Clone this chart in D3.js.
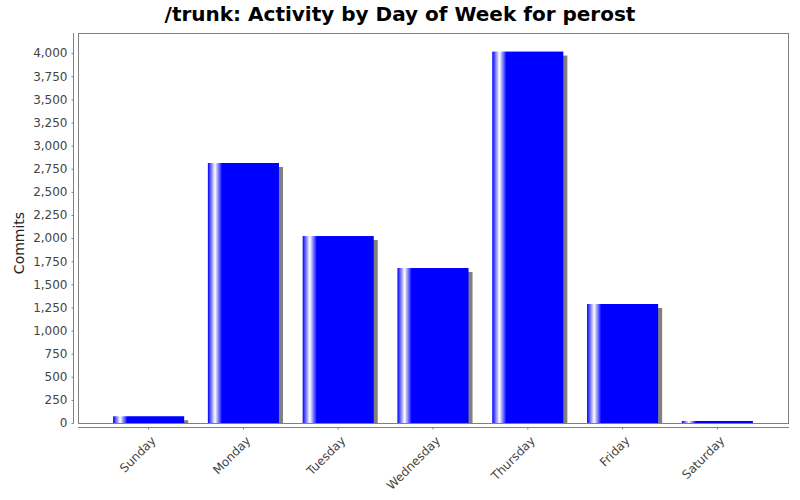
<!DOCTYPE html>
<html><head><meta charset="utf-8">
<script src="https://cdn.jsdelivr.net/npm/d3@7/dist/d3.min.js"></script>
<style>body{margin:0;background:#fff}svg{display:block}</style>
</head><body>
<svg id="chart" width="800" height="500"></svg>
<script>
const title = "/trunk: Activity by Day of Week for perost";
const yLabel = "Commits";
const days = ["Sunday","Monday","Tuesday","Wednesday","Thursday","Friday","Saturday"];
const commits = [73, 2812, 2022, 1676, 4017, 1287, 22];
const yTicks = [0,250,500,750,1000,1250,1500,1750,2000,2250,2500,2750,3000,3250,3500,3750,4000];

const svg = d3.select("#chart");
const font = "DejaVu Sans, sans-serif";
const plot = {left: 78, right: 788, top: 33, bottom: 423};

const x = d3.scaleBand().domain(days).range([plot.left, plot.right]).paddingInner(0.25).paddingOuter(0.37);
const y = d3.scaleLinear().domain([0, d3.max(commits) * 1.05]).range([plot.bottom, plot.top]);

const defs = svg.append("defs");
const grad = defs.append("linearGradient").attr("id","barGrad").attr("x1","0%").attr("x2","100%").attr("y1","0%").attr("y2","0%");
[[0,"#0000ff"],[0.10,"#ffffff"],[0.20,"#0000ff"],[0.80,"#0000ff"],[1,"#0000ff"]].forEach(([o,c]) =>
  grad.append("stop").attr("offset", o).attr("stop-color", c));

// plot background
svg.append("rect").attr("x", plot.left + 0.5).attr("y", plot.top + 0.5)
  .attr("width", plot.right - plot.left).attr("height", plot.bottom - plot.top)
  .attr("fill", "#fff").attr("stroke", "#808080").attr("stroke-width", 1);

// shadows
svg.append("g").selectAll("rect").data(days).join("rect")
  .attr("x", d => x(d) + 4).attr("y", (d,i) => y(commits[i]) + 4)
  .attr("width", x.bandwidth()).attr("height", (d,i) => Math.max(0, plot.bottom - y(commits[i]) - 4))
  .attr("fill", "#808080");

// bars
svg.append("g").selectAll("rect").data(days).join("rect")
  .attr("x", d => x(d)).attr("y", (d,i) => y(commits[i]))
  .attr("width", x.bandwidth()).attr("height", (d,i) => plot.bottom - y(commits[i]))
  .attr("fill", "url(#barGrad)");

// re-draw plot border on top
svg.append("rect").attr("x", plot.left + 0.5).attr("y", plot.top + 0.5)
  .attr("width", plot.right - plot.left).attr("height", plot.bottom - plot.top)
  .attr("fill", "none").attr("stroke", "#808080").attr("stroke-width", 1);

// y axis
const yAxis = d3.axisLeft(y).tickValues(yTicks).tickSize(2).tickPadding(4).tickFormat(d3.format(","));
const yg = svg.append("g").attr("transform", "translate(73.5,0)").call(yAxis);
yg.select(".domain").attr("d", `M0,${plot.top}V${plot.bottom + 0.5}`).attr("stroke", "#808080");
yg.selectAll(".tick line").attr("stroke", "#808080");
yg.selectAll("text").attr("font-family", font).attr("font-size", 12).attr("fill", "#444");

// x axis
const xAxis = d3.axisBottom(x).tickSize(2).tickSizeOuter(0).tickPadding(3);
const xg = svg.append("g").attr("transform", "translate(0,427.5)").call(xAxis);
xg.select(".domain").attr("d", `M${plot.left},0H${plot.right + 1}`).attr("stroke", "#808080");
xg.selectAll(".tick line").attr("stroke", "#808080");
xg.selectAll("text").attr("font-family", font).attr("font-size", 12).attr("fill", "#444")
  .attr("text-anchor", "end").attr("dy", "0.35em")
  .attr("transform", "translate(5,11) rotate(-45)").attr("y", 0).attr("x", 0);

// title
svg.append("text").attr("x", 400).attr("y", 21).attr("text-anchor", "middle")
  .attr("font-family", font).attr("font-weight", "bold").attr("font-size", 20).attr("fill", "#000")
  .text(title);

// y label
svg.append("text").attr("transform", "translate(24,243) rotate(-90)").attr("text-anchor", "middle")
  .attr("font-family", font).attr("font-size", 14).attr("fill", "#222").text(yLabel);
</script>
</body></html>
